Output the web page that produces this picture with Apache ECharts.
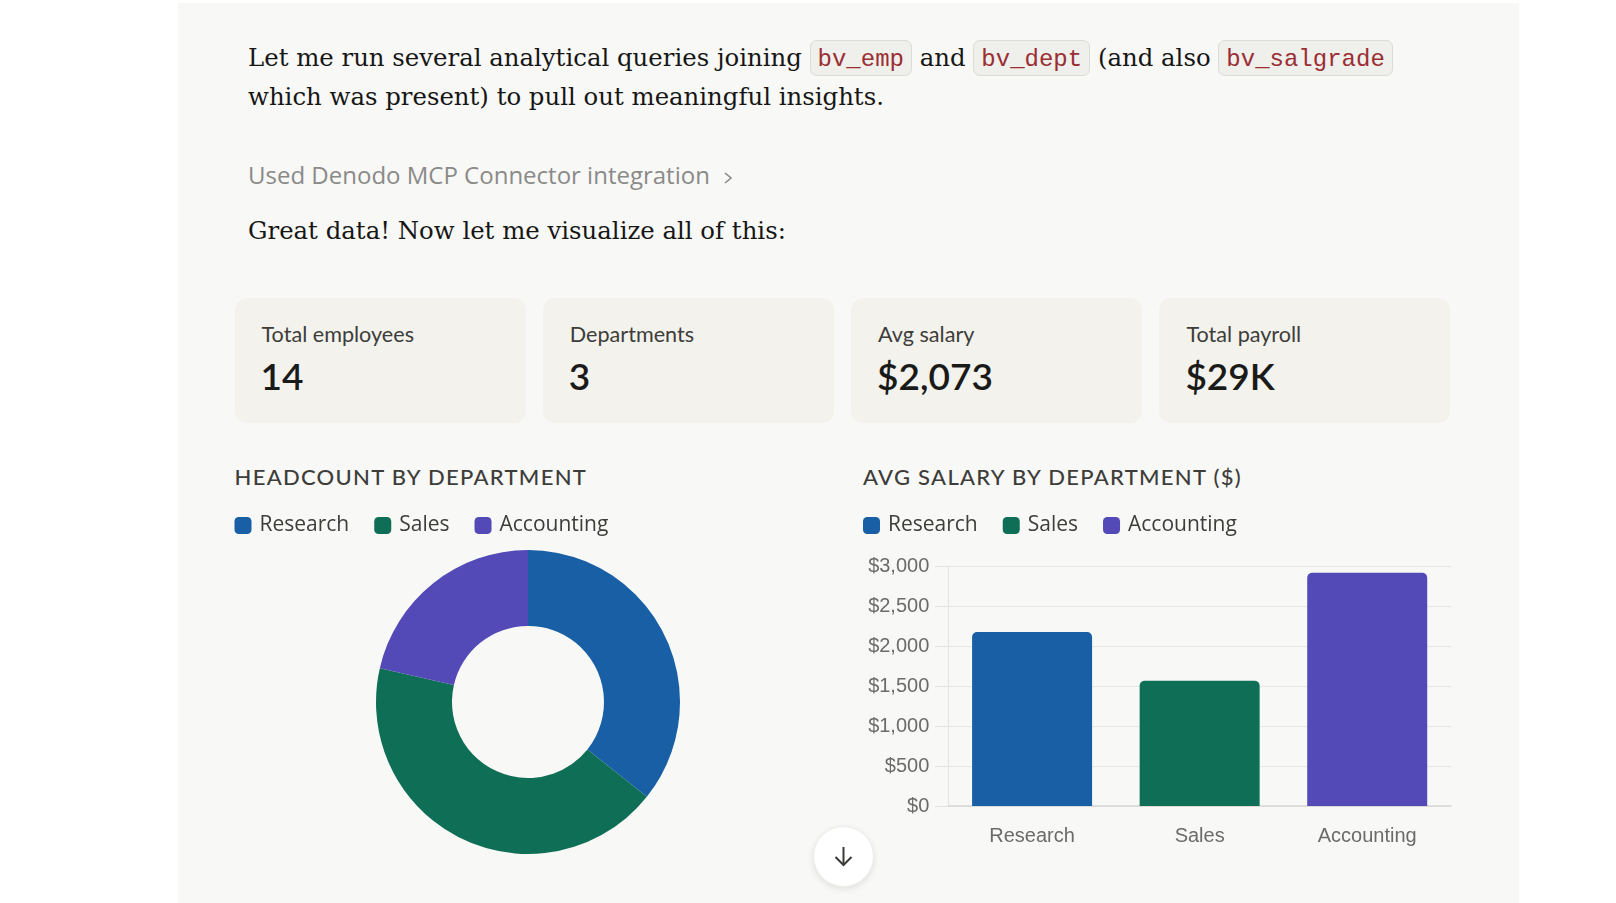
<!DOCTYPE html>
<html>
<head>
<meta charset="utf-8">
<script src="https://cdn.jsdelivr.net/npm/echarts@6/dist/echarts.min.js"></script>
<style>
  html, body { margin: 0; padding: 0; background: #ffffff; width: 1616px; height: 903px; overflow: hidden; }
  .panel { position: absolute; left: 178px; top: 3px; width: 1341px; height: 900px; background: #f8f8f6; }
  .serif { position: absolute; left: 248px; font-family: "DejaVu Serif", serif; font-size: 24.4px; line-height: 39.2px; color: #161615; white-space: nowrap; }
  code { font-family: "Liberation Mono", monospace; font-size: 24px; line-height: 1; color: #9a2e33; background: #efefec; border: 1px solid #dcdcd7; border-radius: 7px; padding: 5px 7px 2px; }
  .tool { position: absolute; left: 248px; top: 161px; font-family: "Open Sans", sans-serif; font-size: 24px; line-height: 1.2; color: #8a8a88; white-space: nowrap; }
  .tool svg { vertical-align: middle; margin-left: 13px; }
  .card { position: absolute; top: 298px; width: 291px; height: 125px; background: #f3f2ec; border-radius: 12px; }
  .card .lbl { position: absolute; left: 27px; top: 24px; font-family: Lato, sans-serif; font-size: 21.6px; line-height: 1.2; color: #3d3d3a; }
  .card .val { position: absolute; left: 26px; top: 55.5px; font-family: Lato, sans-serif; font-size: 37px; line-height: 1.2; font-weight: 600; color: #1a1a19; }
  .ctitle { position: absolute; top: 464px; font-family: Lato, sans-serif; font-size: 22px; line-height: 1.2; font-weight: 500; letter-spacing: 1.3px; color: #3d3d3a; }
  #pie { position: absolute; left: 220px; top: 500px; width: 620px; height: 403px; }
  #bar { position: absolute; left: 820px; top: 500px; width: 660px; height: 403px; }
  .down { position: absolute; left: 813px; top: 826px; width: 59px; height: 59px; border-radius: 50%; background: #ffffff; border: 1px solid #ececea; box-shadow: 0 2px 6px rgba(0,0,0,0.10); z-index: 5; }
  .down svg { position: absolute; left: 16px; top: 16px; }
</style>
</head>
<body>
<div class="panel"></div>

<div class="serif" style="top:37.6px">Let me run several analytical queries joining <code>bv_emp</code> and <code>bv_dept</code> (and also <code>bv_salgrade</code><br>which was present) to pull out meaningful insights.</div>
<div class="tool">Used Denodo MCP Connector integration<svg width="10" height="14" viewBox="0 0 10 14"><polyline points="2,2 8,7 2,12" fill="none" stroke="#8a8a88" stroke-width="1.6"/></svg></div>
<div class="serif" style="top:210.5px">Great data! Now let me visualize all of this:</div>

<div id="cards"></div>

<div class="ctitle" style="left:234.5px">HEADCOUNT BY DEPARTMENT</div>
<div class="ctitle" style="left:863px">AVG SALARY BY DEPARTMENT ($)</div>

<div id="pie"></div>
<div id="bar"></div>

<div class="down"><svg width="27" height="27" viewBox="0 0 27 27"><line x1="13.5" y1="4" x2="13.5" y2="22" stroke="#3a3a38" stroke-width="2"/><polyline points="5.5,14 13.5,22 21.5,14" fill="none" stroke="#3a3a38" stroke-width="2"/></svg></div>

<script>
// data
const departments = ["Research", "Sales", "Accounting"];
const headcount = [5, 6, 3];
const avgSalary = [2175, 1566.67, 2916.67];
const salaryMin = 0;
const salaryMax = 3000;
const salaryStep = 500;
const kpiLabels = ["Total employees", "Departments", "Avg salary", "Total payroll"];
const kpiValues = ["14", "3", "$2,073", "$29K"];

const deptColors = ["#185FA5", "#0F6E56", "#534AB7"];

// kpi cards
const cardsEl = document.getElementById("cards");
kpiLabels.forEach((lbl, i) => {
  const c = document.createElement("div");
  c.className = "card";
  c.style.left = (234.5 + i * 308.3) + "px";
  c.innerHTML = '<div class="lbl">' + lbl + '</div><div class="val">' + kpiValues[i] + "</div>";
  cardsEl.appendChild(c);
});

const legendBase = {
  icon: "roundRect",
  itemWidth: 17,
  itemHeight: 17,
  itemGap: 25,
  top: 15,
  padding: 0,
  selectedMode: false,
  textStyle: {
    fontFamily: "Open Sans",
    fontSize: 21,
    lineHeight: 17,
    color: "#3d3d3a",
    padding: [0, 0, 0, 3],
  },
};

// headcount donut
const pieChart = echarts.init(document.getElementById("pie"));
pieChart.setOption({
  animation: false,
  color: deptColors,
  legend: Object.assign({}, legendBase, { left: 14.5, data: departments }),
  series: [
    {
      type: "pie",
      center: [308, 202],
      radius: [76, 152],
      startAngle: 90,
      silent: true,
      label: { show: false },
      labelLine: { show: false },
      itemStyle: { borderWidth: 0 },
      data: departments.map((d, i) => ({ name: d, value: headcount[i] })),
    },
  ],
});

// avg salary bars
const barChart = echarts.init(document.getElementById("bar"));
barChart.setOption({
  animation: false,
  color: deptColors,
  legend: Object.assign({}, legendBase, { left: 43, data: departments }),
  grid: { left: 128.3, right: 29, top: 66, bottom: 97 },
  xAxis: {
    type: "category",
    data: departments,
    axisLine: { show: true, lineStyle: { color: "#d6d6d4", width: 1.5 } },
    axisTick: { show: false },
    axisLabel: { fontFamily: "Liberation Sans", fontSize: 20, color: "#6b6b6b", margin: 20 },
  },
  yAxis: {
    type: "value",
    min: salaryMin,
    max: salaryMax,
    interval: salaryStep,
    axisLine: { show: true, lineStyle: { color: "#e2e2e0" } },
    axisTick: { show: true, length: 13, lineStyle: { color: "#e2e2e0" } },
    splitLine: { show: true, lineStyle: { color: "#e6e6e4" } },
    axisLabel: {
      fontFamily: "Liberation Sans",
      fontSize: 20,
      color: "#6b6b6b",
      margin: 19,
      formatter: (v) => "$" + v.toLocaleString("en-US"),
    },
  },
  series: departments.map((d, i) => ({
    name: d,
    type: "bar",
    stack: "dept",
    barWidth: 120,
    silent: true,
    itemStyle: { color: deptColors[i], borderRadius: [5, 5, 0, 0] },
    data: avgSalary.map((v, j) => (j === i ? v : "-")),
  })),
});
</script>
</body>
</html>
